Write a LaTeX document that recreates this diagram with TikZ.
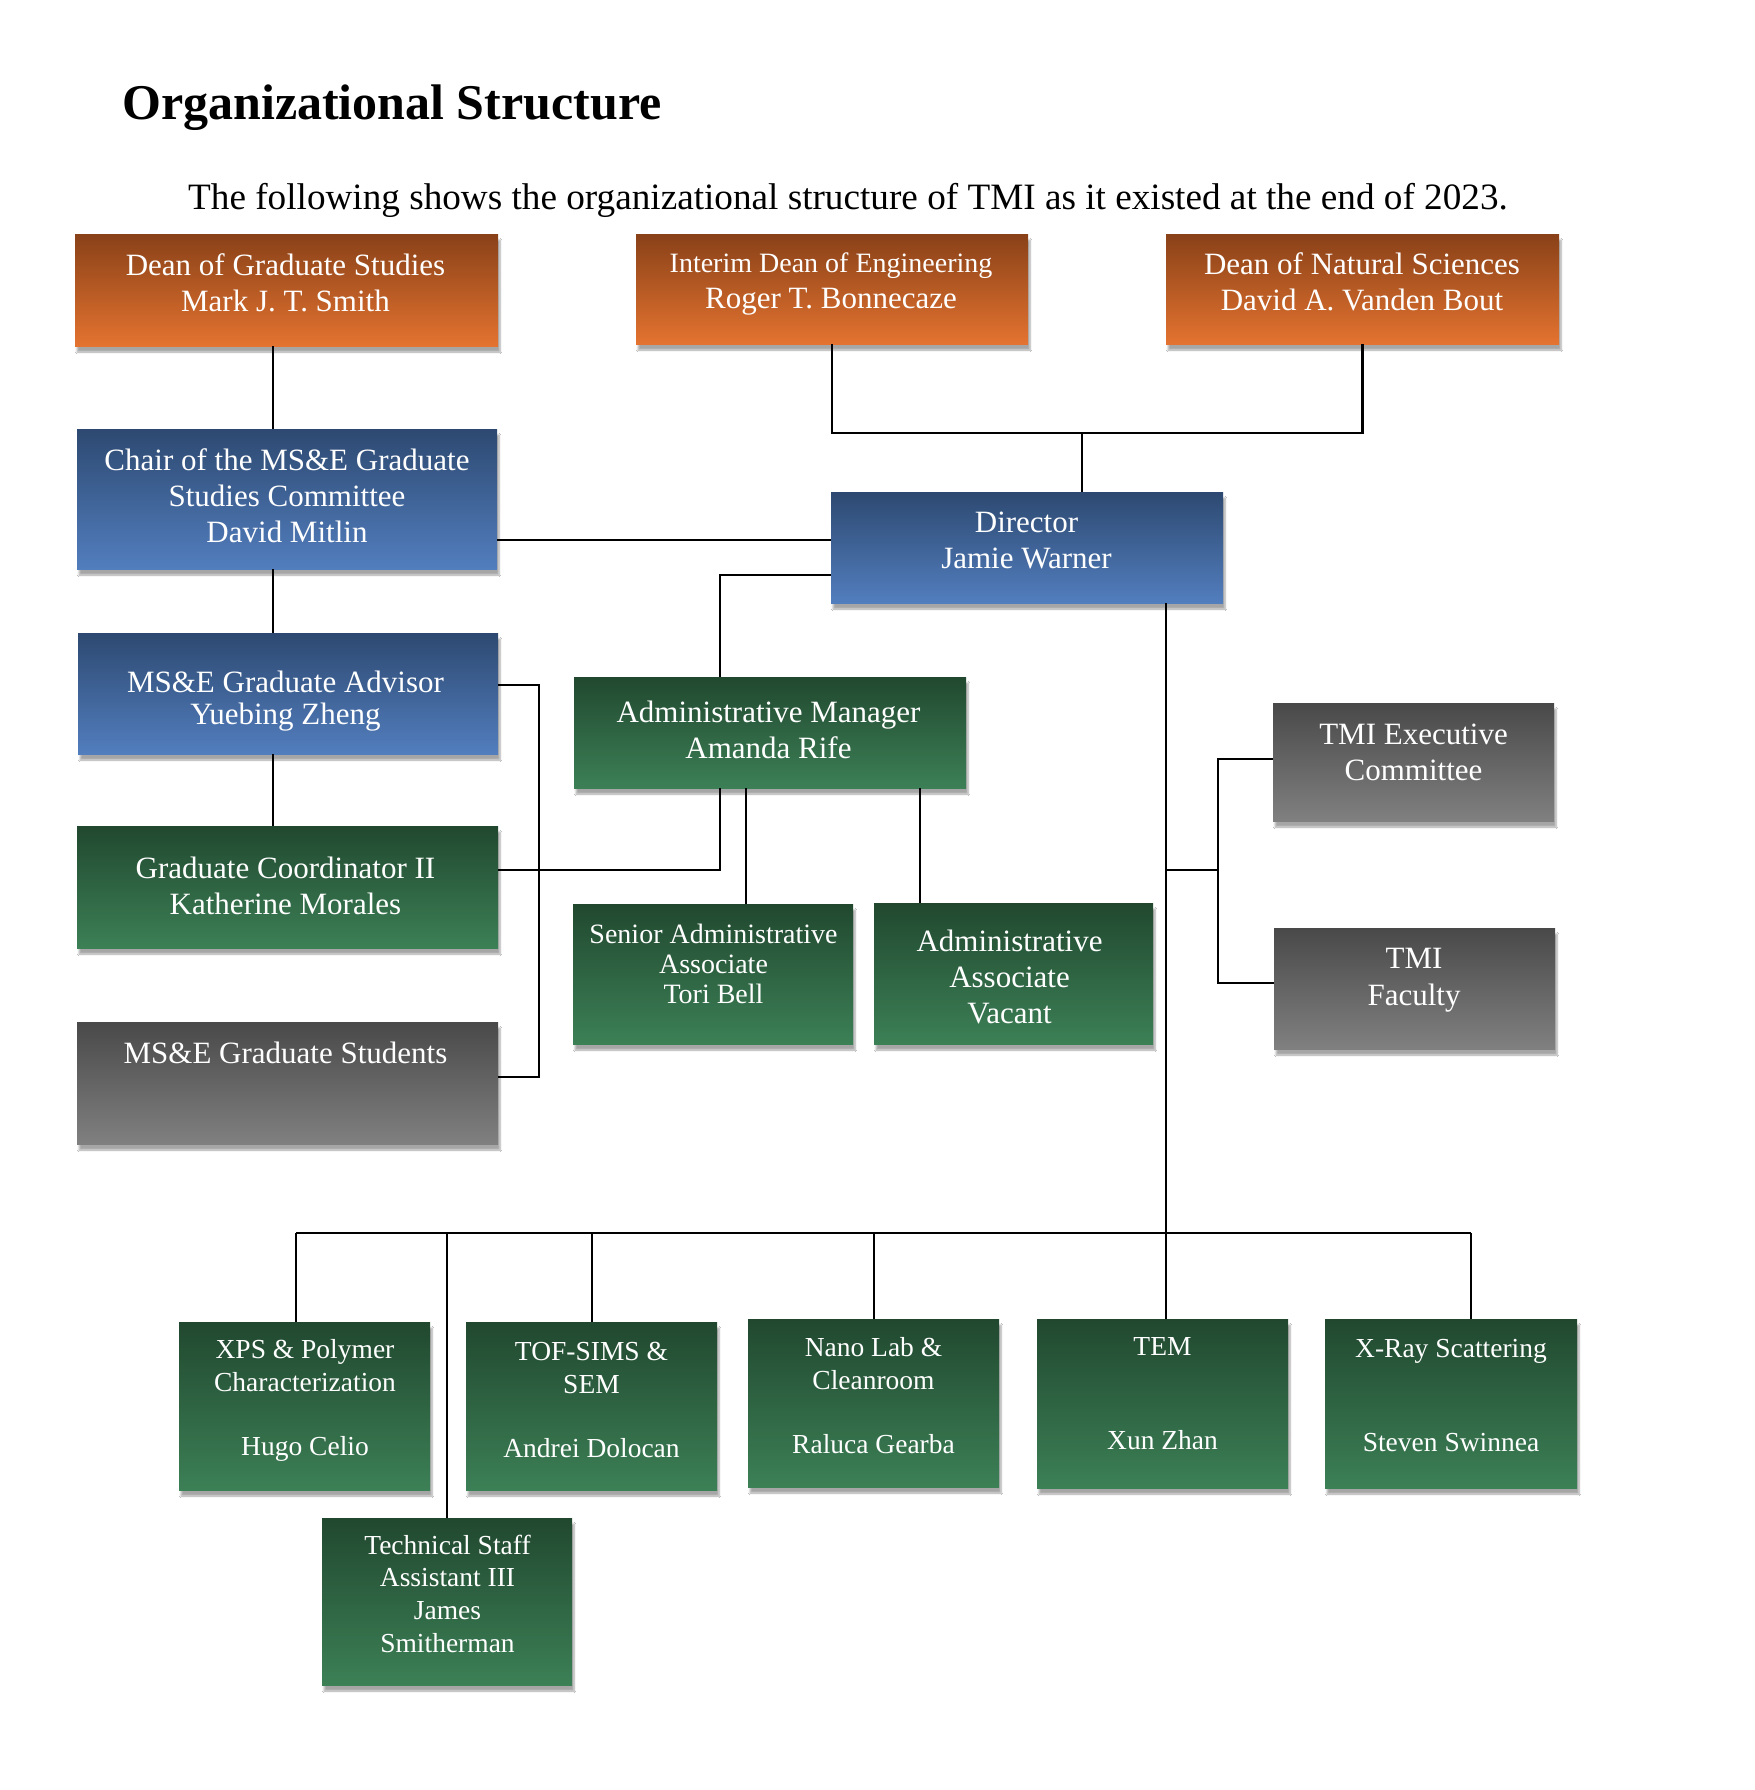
\documentclass[tikz,border=0pt]{standalone}
\usepackage{fontspec}
\setmainfont{Liberation Serif}
\usetikzlibrary{shadows.blur}
\definecolor{orT}{RGB}{137,65,24}
\definecolor{orB}{RGB}{228,115,48}
\definecolor{blT}{RGB}{45,73,113}
\definecolor{blB}{RGB}{82,126,190}
\definecolor{grT}{RGB}{33,72,47}
\definecolor{grB}{RGB}{60,128,86}
\definecolor{gyT}{RGB}{73,73,73}
\definecolor{gyB}{RGB}{128,128,128}
\tikzset{
  card/.style={rectangle, inner sep=0pt, draw=none,
    blur shadow={shadow xshift=2pt, shadow yshift=-6pt, shadow blur steps=6, shadow opacity=35}},
  orangecard/.style={card, top color=orT, bottom color=orB},
  bluecard/.style={card, top color=blT, bottom color=blB},
  greencard/.style={card, top color=grT, bottom color=grB},
  graycard/.style={card, top color=gyT, bottom color=gyB},
  lbl/.style={text=white, align=center, inner sep=0pt, anchor=north, font=\fontsize{31}{36}\selectfont},
  lblsmall/.style={lbl, font=\fontsize{27.5}{32.3}\selectfont},
  conn/.style={line width=2.4pt, black},
}
\begin{document}
\begin{tikzpicture}[x=1pt,y=-1pt]
\useasboundingbox (0,0) rectangle (1754,1790);
\fill[white] (0,0) rectangle (1754,1790);

% title
\node[anchor=base west, inner sep=0pt, font=\fontsize{50}{60}\selectfont\bfseries] (title) at (122,120) {Organizational Structure};
\node[anchor=base west, inner sep=0pt, font=\fontsize{37.2}{44}\selectfont] (subtitle) at (188,209) {The following shows the organizational structure of TMI as it existed at the end of 2023.};

% boxes
\node[orangecard, minimum width=423pt, minimum height=112pt] (dgs) at (286.5,290) {};
\node[orangecard, minimum width=392pt, minimum height=110pt] (ide) at (832,289) {};
\node[orangecard, minimum width=393pt, minimum height=110pt] (dns) at (1362.5,289) {};
\node[bluecard, minimum width=420pt, minimum height=140pt] (chair) at (287,499) {};
\node[bluecard, minimum width=392pt, minimum height=111pt] (dir) at (1027,547.5) {};
\node[bluecard, minimum width=420pt, minimum height=121pt] (adv) at (288,693.5) {};
\node[greencard, minimum width=392pt, minimum height=111pt] (am) at (770,732.5) {};
\node[graycard, minimum width=281pt, minimum height=118pt] (exec) at (1413.5,762) {};
\node[greencard, minimum width=421pt, minimum height=122pt] (coord) at (287.5,887) {};
\node[greencard, minimum width=280pt, minimum height=140pt] (senior) at (713,974) {};
\node[greencard, minimum width=279pt, minimum height=141pt] (assoc) at (1013.5,973.5) {};
\node[graycard, minimum width=281pt, minimum height=121pt] (fac) at (1414.5,988.5) {};
\node[graycard, minimum width=421pt, minimum height=122pt] (stu) at (287.5,1083) {};
\node[greencard, minimum width=251pt, minimum height=168pt] (xps) at (304.5,1406) {};
\node[greencard, minimum width=251pt, minimum height=168pt] (tof) at (591.5,1406) {};
\node[greencard, minimum width=251pt, minimum height=168pt] (nano) at (873.5,1403) {};
\node[greencard, minimum width=251pt, minimum height=169pt] (tem) at (1162.5,1403.5) {};
\node[greencard, minimum width=252pt, minimum height=169pt] (xray) at (1451,1403.5) {};
\node[greencard, minimum width=250pt, minimum height=167pt] (tech) at (447,1601.5) {};

% labels
\node[lbl] (dgs-t) at (285.5,250) {\strut Dean of Graduate Studies\\Mark J. T. Smith};
\node[lbl] (ide-t) at (831,247) {\strut{\fontsize{28}{36}\selectfont Interim Dean of Engineering}\\Roger T. Bonnecaze};
\node[lbl] (dns-t) at (1362,249) {\strut Dean of Natural Sciences\\David A. Vanden Bout};
\node[lbl] (chair-t) at (287,445) {\strut Chair of the MS\&E Graduate\\Studies Committee\\David Mitlin};
\node[lbl] (dir-t) at (1026.5,507) {\strut Director\\Jamie Warner};
\node[lbl, font=\fontsize{31}{30}\selectfont] (adv-t) at (285.5,671) {\strut MS\&E Graduate Advisor\\Yuebing Zheng};
\node[lbl] (am-t) at (768.5,697) {\strut Administrative Manager\\Amanda Rife};
\node[lbl] (exec-t) at (1413.5,719) {\strut TMI Executive\\Committee};
\node[lbl] (coord-t) at (285.5,853) {\strut Graduate Coordinator II\\Katherine Morales};
\node[lbl, font=\fontsize{28}{30}\selectfont] (senior-t) at (713.5,922) {\strut Senior Administrative\\Associate\\Tori Bell};
\node[lbl] (assoc-t) at (1009.5,926) {\strut Administrative\\Associate\\Vacant};
\node[lbl, font=\fontsize{31}{37}\selectfont] (fac-t) at (1414,942) {\strut TMI\\Faculty};
\node[lbl] (stu-t) at (285.5,1038) {\strut MS\&E Graduate Students};
\node[lblsmall] (xps-t) at (305,1336) {\strut XPS \& Polymer\\Characterization\\\strut\\Hugo Celio};
\node[lblsmall] (tof-t) at (591.5,1338) {\strut TOF-SIMS \&\\SEM\\\strut\\Andrei Dolocan};
\node[lblsmall] (nano-t) at (873.5,1334) {\strut Nano Lab \&\\Cleanroom\\\strut\\Raluca Gearba};
\node[lblsmall, font=\fontsize{27.5}{31.5}\selectfont] (tem-t) at (1162.5,1333) {\strut TEM\\\strut\\\strut\\Xun Zhan};
\node[lblsmall, font=\fontsize{27.5}{31.5}\selectfont] (xray-t) at (1451,1335) {\strut X-Ray Scattering\\\strut\\\strut\\Steven Swinnea};
\node[lblsmall, font=\fontsize{27.5}{32.7}\selectfont] (tech-t) at (447.5,1531) {\strut Technical Staff\\Assistant III\\James\\Smitherman};

% junction coordinates
\coordinate (lv) at (273,0);
\coordinate (jn) at (1082,433);
\coordinate (h1) at (0,540);
\coordinate (amj) at (720,575);
\coordinate (bt) at (539,685);
\coordinate (bb) at (539,1077);
\coordinate (cj) at (720,870);
\coordinate (sx) at (746,0);
\coordinate (ax) at (920,0);
\coordinate (dv) at (1166,0);
\coordinate (tj) at (1166,870);
\coordinate (tx) at (1218,870);
\coordinate (ey) at (0,759);
\coordinate (fy) at (0,983);
\coordinate (bl) at (296,1233);
\coordinate (b2) at (447,1233);
\coordinate (b3) at (592,1233);
\coordinate (b4) at (874,1233);
\coordinate (br) at (1471,1233);

% connectors
\draw[conn] (dgs.south -| lv) -- (chair.north -| lv);
\draw[conn] (chair.south -| lv) -- (adv.north -| lv);
\draw[conn] (adv.south -| lv) -- (coord.north -| lv);
\draw[conn] (ide.south) |- (jn);
\draw[conn] (dns.south) |- (jn);
\draw[conn] (jn) -- (dir.north -| jn);
\draw[conn] (chair.east |- h1) -- (dir.west |- h1);
\draw[conn] (dir.west |- amj) -- (amj) -- (am.north -| amj);
\draw[conn] (adv.east |- bt) -- (bt) -- (bb) -- (stu.east |- bb);
\draw[conn] (coord.east |- cj) -- (cj) -- (am.south -| cj);
\draw[conn] (am.south -| sx) -- (senior.north -| sx);
\draw[conn] (am.south -| ax) -- (assoc.north -| ax);
\draw[conn] (dir.south -| dv) -- (tem.north -| dv);
\draw[conn] (tj) -- (tx);
\draw[conn] (exec.west |- ey) -- (tx |- ey) -- (tx |- fy) -- (fac.west |- fy);
\draw[conn] (bl) -- (br);
\draw[conn] (bl) -- (xps.north -| bl);
\draw[conn] (b2) -- (tech.north -| b2);
\draw[conn] (b3) -- (tof.north -| b3);
\draw[conn] (b4) -- (nano.north -| b4);
\draw[conn] (br) -- (xray.north -| br);
\end{tikzpicture}
\end{document}
